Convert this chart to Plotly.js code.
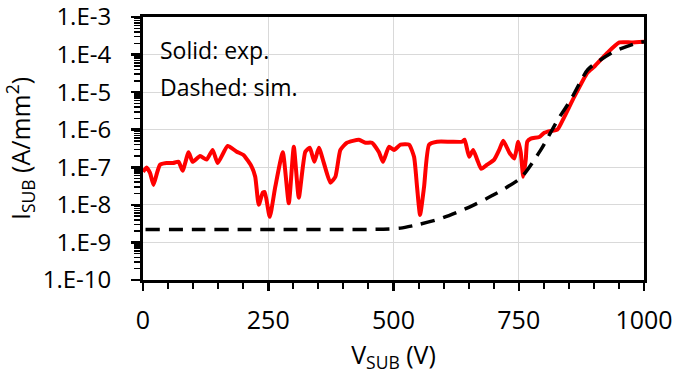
<!DOCTYPE html>
<html>
<head>
<meta charset="utf-8">
<script src="https://cdn.plot.ly/plotly-3.0.1.min.js"></script>
<style>
html,body{margin:0;padding:0;background:#fff;}
#chart{width:676px;height:376px;}
</style>
</head>
<body>
<div id="chart"></div>
<script>
// Experimental substrate current (solid red)
const expV = [0, 7, 14, 21, 28, 34, 47, 60, 71, 79, 91, 99, 114, 127, 139, 149, 169, 187, 201, 217, 224, 231, 239, 243, 253, 264, 279, 291, 301, 311, 324, 333, 342, 351, 361, 374, 384, 394, 407, 431, 444, 457, 471, 479, 491, 501, 514, 531, 541, 547, 553, 561, 571, 587, 614, 637, 642, 651, 659, 667, 675, 687, 701, 711, 719, 731, 741, 749, 754, 759, 764, 767, 774, 791, 801, 814, 827, 841, 861, 887, 901, 927, 951, 975, 1000];
const expI = [7.6e-8, 9.8e-8, 7.1e-8, 3.4e-8, 7.1e-8, 1.17e-7, 1.3e-7, 1.3e-7, 1.4e-7, 8.1e-8, 2.5e-7, 1.4e-7, 2.0e-7, 1.6e-7, 2.9e-7, 1.3e-7, 3.7e-7, 2.6e-7, 2.1e-7, 1.03e-7, 5.6e-8, 1.0e-8, 2.1e-8, 2.2e-8, 4.8e-9, 3.0e-8, 2.5e-7, 1.1e-8, 3.5e-7, 1.55e-8, 2.6e-7, 3.3e-7, 1.4e-7, 3.3e-7, 1.3e-7, 3.9e-8, 5.6e-8, 2.9e-7, 4.5e-7, 5.4e-7, 4.5e-7, 4.5e-7, 2.5e-7, 1.4e-7, 3.5e-7, 2.9e-7, 4.0e-7, 4.0e-7, 1.9e-7, 3.0e-8, 5.4e-9, 3.0e-8, 4.0e-7, 4.8e-7, 4.8e-7, 4.8e-7, 5.4e-7, 1.9e-7, 2.9e-7, 1.6e-7, 9.1e-8, 1.17e-7, 1.6e-7, 2.9e-7, 5.1e-7, 2.5e-7, 1.7e-7, 4.8e-7, 2.5e-7, 5.6e-8, 1.6e-7, 4.8e-7, 5.8e-7, 6.4e-7, 8.3e-7, 9.3e-7, 1.0e-6, 2.2e-6, 7.6e-6, 3.3e-5, 4.8e-5, 1.12e-4, 2.1e-4, 2.1e-4, 2.2e-4];

// Simulated substrate current (dashed black)
const simV = [5, 100, 200, 300, 400, 480, 514, 550, 594, 648, 700, 754, 794, 828, 854, 888, 940, 990, 1000];
const simI = [2.2e-9, 2.2e-9, 2.2e-9, 2.2e-9, 2.2e-9, 2.25e-9, 2.4e-9, 3.0e-9, 4.3e-9, 8.3e-9, 1.85e-8, 5.2e-8, 2.9e-7, 1.85e-6, 6.3e-6, 4.0e-5, 1.2e-4, 2.1e-4, 2.2e-4];

// Axis ticks
const yTickVals = [1e-10, 1e-9, 1e-8, 1e-7, 1e-6, 1e-5, 1e-4, 1e-3];
const yTickText = ['1.E-10', '1.E-9', '1.E-8', '1.E-7', '1.E-6', '1.E-5', '1.E-4', '1.E-3'];
const xTickVals = [0, 250, 500, 750, 1000];

const notes = ['Solid: exp.', 'Dashed: sim.'];

const FONT = 'Open Sans, Liberation Sans, sans-serif';

const traces = [
  {
    x: expV, y: expI, type: 'scatter', mode: 'lines',
    line: {color: '#ff0000', width: 4, shape: 'spline', smoothing: 0.5},
    hoverinfo: 'skip'
  },
  {
    x: simV, y: simI, type: 'scatter', mode: 'lines',
    line: {color: '#000000', width: 3.5, dash: '14px,9px', shape: 'spline', smoothing: 0.6},
    hoverinfo: 'skip'
  }
];

const layout = {
  width: 676, height: 376,
  margin: {l: 143, r: 32, t: 17, b: 96, pad: 0},
  paper_bgcolor: '#ffffff', plot_bgcolor: '#ffffff',
  showlegend: false,
  font: {family: FONT, size: 24, color: '#000'},
  xaxis: {
    range: [0, 1000],
    tickmode: 'array', tickvals: xTickVals, ticktext: xTickVals.map(String),
    ticks: 'outside', ticklen: 8, tickwidth: 2.5, tickcolor: '#000',
    ticklabelstandoff: 8, ticklabeloverflow: 'allow',
    tickfont: {family: FONT, size: 25, color: '#000'},
    minor: {dtick: 50, tick0: 0, ticks: 'outside', ticklen: 6, tickwidth: 2, tickcolor: '#000', showgrid: false},
    showgrid: true, gridcolor: '#d9d9d9', gridwidth: 1,
    showline: true, linecolor: '#000', linewidth: 3, mirror: true,
    zeroline: false,
    title: {text: 'V<sub>SUB</sub> (V)', font: {family: FONT, size: 25, color: '#000'}, standoff: 12},
    automargin: false, fixedrange: true
  },
  yaxis: {
    type: 'log', range: [-10.0004, -2.9996],
    tickmode: 'array', tickvals: yTickVals, ticktext: yTickText,
    ticks: 'outside', ticklen: 9, tickwidth: 2.5, tickcolor: '#000',
    ticklabelstandoff: 15, ticklabeloverflow: 'allow',
    tickfont: {family: FONT, size: 24, color: '#000'},
    minor: {dtick: 'D1', ticks: 'outside', ticklen: 6, tickwidth: 1.5, tickcolor: '#000', showgrid: false},
    showgrid: true, gridcolor: '#d9d9d9', gridwidth: 1,
    showline: true, linecolor: '#000', linewidth: 3, mirror: true,
    zeroline: false,
    title: {text: 'I<sub>SUB</sub> (A/mm<sup>2</sup>)', font: {family: FONT, size: 25, color: '#000'}, standoff: 10},
    automargin: false, fixedrange: true
  },
  annotations: notes.map((t, i) => ({
    text: t, xref: 'paper', yref: 'paper',
    x: 0.03, y: 0.875 - i * 0.142,
    xanchor: 'left', yanchor: 'middle', showarrow: false,
    font: {family: FONT, size: 23, color: '#000'}
  }))
};

Plotly.newPlot('chart', traces, layout, {staticPlot: true, displayModeBar: false});
</script>
</body>
</html>
